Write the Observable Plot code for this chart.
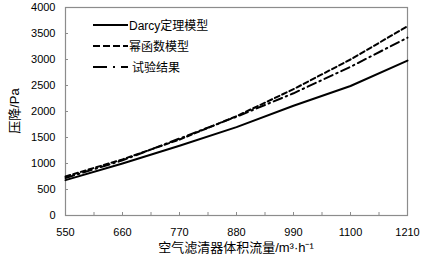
<!DOCTYPE html>
<html><head><meta charset="utf-8">
<script src="https://cdn.jsdelivr.net/npm/d3@7"></script>
<script src="https://cdn.jsdelivr.net/npm/@observablehq/plot@0.6"></script>
<style>
body{margin:0;background:#fff;}
#wrap{position:relative;width:421px;height:262px;font-family:"Liberation Sans","Noto Sans CJK SC",sans-serif;}
#legend{position:absolute;left:93px;top:14px;font-size:12px;color:#000;}
#legend .row{display:flex;align-items:center;height:21px;}
#legend svg{display:block;}
</style></head>
<body><div id="wrap"><div id="chart"></div><div id="legend"></div></div>
<script>
const flow = [550, 660, 770, 880, 990, 1100, 1210];
const darcy = [680, 1000, 1340, 1700, 2110, 2490, 2980];
const power = [750, 1080, 1460, 1910, 2430, 3000, 3640];
const test  = [720, 1060, 1480, 1900, 2350, 2860, 3420];
const seriesNames = ["Darcy定理模型", "幂函数模型", "试验结果"];
const xTicks = [550, 660, 770, 880, 990, 1100, 1210];
const xMinor = [605, 715, 825, 935, 1045, 1155];
const yTicks = [0, 500, 1000, 1500, 2000, 2500, 3000, 3500, 4000];

const dashes = [null, "5,3", "9,4,1.5,4"];
const rows = [];
[darcy, power, test].forEach((arr, i) => arr.forEach((v, j) => rows.push({x: flow[j], y: v, s: seriesNames[i]})));

const font = '"Liberation Sans","Noto Sans CJK SC",sans-serif';
const chart = Plot.plot({
  width: 421, height: 262,
  marginLeft: 65, marginRight: 14, marginTop: 7, marginBottom: 47,
  style: {fontFamily: font, fontSize: "11px", color: "#000", background: "#fff"},
  x: {domain: [550, 1210]},
  y: {domain: [0, 4000]},
  marks: [
    Plot.frame({stroke: "#8c8c8c", strokeWidth: 1.2}),
    Plot.axisX({ticks: xTicks, tickSize: 0, tickPadding: 13, tickFormat: d => String(d), fontSize: 11, label: null}),
    Plot.axisX({ticks: xTicks.concat(xMinor), tickSize: -3, stroke: "#8c8c8c", tickFormat: () => "", label: null}),
    Plot.axisY({ticks: yTicks, tickSize: 0, tickPadding: 10, tickFormat: d => String(d), fontSize: 11, label: null}),
    Plot.axisY({ticks: yTicks, tickSize: -3, stroke: "#8c8c8c", tickFormat: () => "", label: null}),
    ...seriesNames.map((name, i) => Plot.line(rows.filter(r => r.s === name), {
      x: "x", y: "y", stroke: "#000", strokeWidth: 2, strokeDasharray: dashes[i], curve: "linear"
    }))
  ]
});
document.getElementById("chart").appendChild(chart);

// axis titles as text overlays
const svg = d3.select(chart);
svg.append("text").attr("x", 236).attr("y", 252).attr("text-anchor", "middle")
  .attr("font-size", 13).attr("font-family", font).text("空气滤清器体积流量/m³·h⁻¹");
svg.append("text").attr("transform", "translate(19,111) rotate(-90)").attr("text-anchor", "middle")
  .attr("font-size", 13).attr("font-family", font).text("压降/Pa");

// legend
const leg = document.getElementById("legend");
seriesNames.forEach((name, i) => {
  const row = document.createElement("div"); row.className = "row";
  const s = d3.create("svg").attr("width", 36).attr("height", 6);
  s.append("line").attr("x1", 0).attr("x2", 35).attr("y1", 3).attr("y2", 3)
    .attr("stroke", "#000").attr("stroke-width", 2)
    .attr("stroke-dasharray", i === 1 ? "7,3" : i === 2 ? "14,6,2,6" : null);
  row.appendChild(s.node());
  const t = document.createElement("span"); t.textContent = name;
  t.style.marginLeft = i === 2 ? "3px" : "0px";
  row.appendChild(t);
  leg.appendChild(row);
});
</script></body></html>
